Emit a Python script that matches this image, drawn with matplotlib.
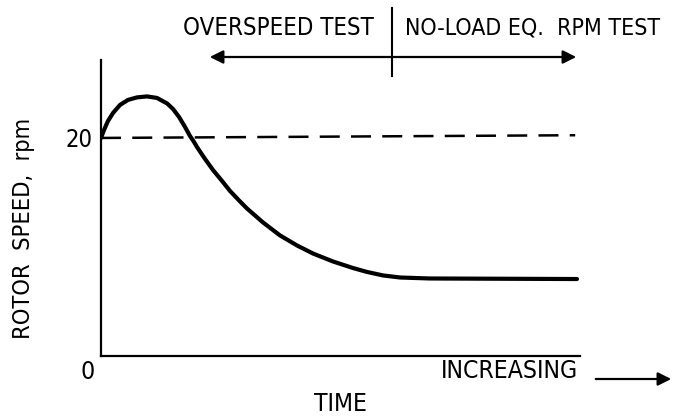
import numpy as np
import matplotlib
matplotlib.use('Agg')
import matplotlib.pyplot as plt
from matplotlib.patches import FancyArrowPatch

# rotor speed curve (time in arbitrary units 0..100)
time = [0, 0.63, 1.46, 2.51, 3.97, 5.64, 7.52, 9.6, 11.69, 13.78, 15.03, 16.28, 17.54,
        18.58, 19.42, 20.04, 21.5, 23.38, 25.26, 26.93, 28.81, 30.48, 33.82, 37.37,
        40.92, 44.26, 48.43, 52.61, 55.53, 58.87, 62.42, 68.68, 99.37]
speed = [20.0, 20.73, 21.56, 22.29, 23.03, 23.49, 23.72, 23.81, 23.67, 23.17, 22.66, 21.93, 21.01,
         20.18, 19.63, 19.17, 18.21, 17.06, 16.06, 15.14, 14.27, 13.53, 12.25, 11.06,
         10.14, 9.40, 8.67, 8.07, 7.71, 7.39, 7.20, 7.11, 7.06]
ref_time = [0, 99.0]
ref_speed = [20.0, 20.25]  # dashed reference level at 20 rpm

plt.rcParams['font.family'] = ['DejaVu Sans']
plt.rcParams['font.stretch'] = 'condensed'

W, H = 674, 420
fig = plt.figure(figsize=(W / 100, H / 100), dpi=100)
renderer = fig.canvas.get_renderer()

def fp(x, y):  # pixel position -> figure fraction
    return x / W, 1 - y / H

def label(x, y, s, width, rot=0):
    # place a text centred at pixel (x, y) and size it to span about `width` pixels
    t = fig.text(*fp(x, y), s, fontsize=18, ha='center', va='center', rotation=rot)
    bb = t.get_window_extent(renderer)
    span = bb.height if rot else bb.width
    t.set_fontsize(18 * width / span)
    return t

ax = fig.add_axes([101 / W, (H - 356) / H, 479 / W, 296 / H])
ax.plot(time, speed, color='black', lw=3, solid_capstyle='round', solid_joinstyle='round')
ax.plot(ref_time, ref_speed, color='black', lw=1.8, dashes=(8, 4.5))
ax.set_xlim(0, 100)
ax.set_ylim(0, 27.15)
for s in ['top', 'right']:
    ax.spines[s].set_visible(False)
for s in ['left', 'bottom']:
    ax.spines[s].set_linewidth(1.6)
ax.set_xticks([])
ax.set_yticks([20])
ax.set_yticklabels(['20'], fontsize=17)
ax.tick_params(axis='y', length=0, pad=6)

# labels
inc = label(509, 371, 'INCREASING', 138)
fs = inc.get_fontsize()
fig.text(*fp(88, 372), '0', fontsize=fs, ha='center', va='center')
fig.text(*fp(340, 404), 'TIME', fontsize=fs, ha='center', va='center')
label(24, 228, 'ROTOR  SPEED,  rpm', 221, rot=90)
label(278, 28, 'OVERSPEED TEST', 191)
label(533, 28, 'NO-LOAD EQ.  RPM TEST', 255)

# test-phase arrows and divider
fig.add_artist(plt.Line2D([392 / W, 392 / W], [1 - 8 / H, 1 - 76 / H], color='black', lw=1.5))
fig.add_artist(FancyArrowPatch(fp(207, 57), fp(579, 57), transform=fig.transFigure,
                               arrowstyle='<|-|>', mutation_scale=20, lw=1.6, color='black'))
fig.add_artist(FancyArrowPatch(fp(593, 379), fp(674, 379), transform=fig.transFigure,
                               arrowstyle='-|>', mutation_scale=20, lw=1.6, color='black'))

fig.savefig('out.png', dpi=100)
